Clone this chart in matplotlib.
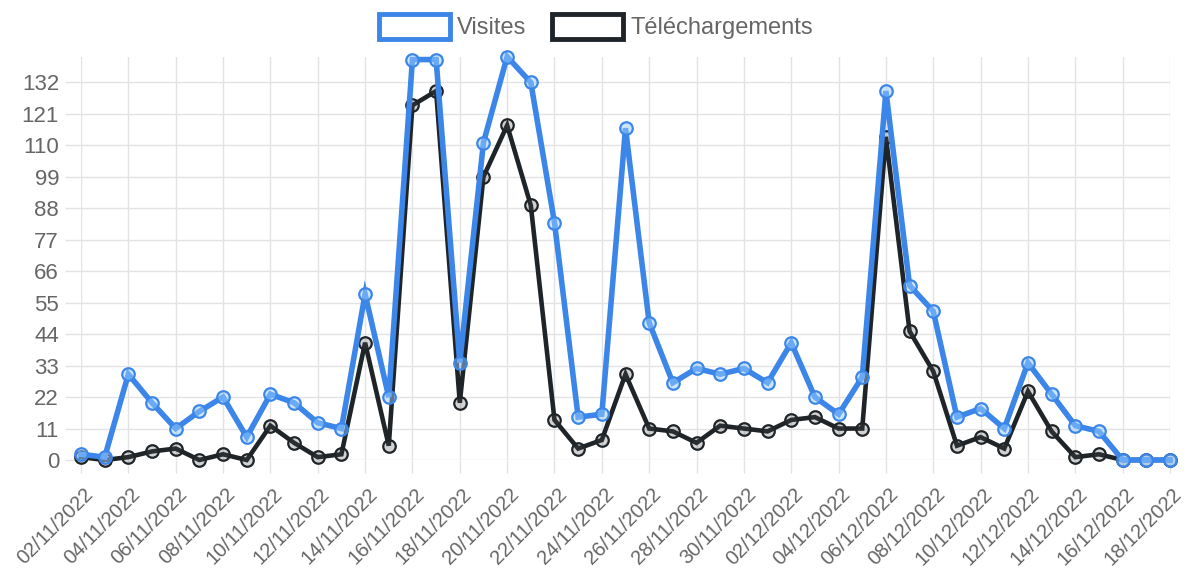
import numpy as np
import pandas as pd
import matplotlib
matplotlib.use("Agg")
import matplotlib.pyplot as plt
import matplotlib.transforms as mtransforms
from matplotlib.patches import Patch

plt.rcParams["font.family"] = ["Liberation Sans", "DejaVu Sans"]

# ─── Data ─────────────────────────────────────────────────────────────
DATES = pd.date_range("2022-11-02", "2022-12-18", freq="D").strftime("%d/%m/%Y").tolist()

VISITES = [2, 1, 30, 20, 11, 17, 22, 8, 23, 20, 13, 11, 58, 22, 140, 140,
           34, 111, 141, 132, 83, 15, 16, 116, 48, 27, 32, 30, 32, 27, 41,
           22, 16, 29, 129, 61, 52, 15, 18, 11, 34, 23, 12, 10, 0, 0, 0]

TELECHARGEMENTS = [1, 0, 1, 3, 4, 0, 2, 0, 12, 6, 1, 2, 41, 5, 124, 129,
                   20, 99, 117, 89, 14, 4, 7, 30, 11, 10, 6, 12, 11, 10, 14,
                   15, 11, 11, 113, 45, 31, 5, 8, 4, 24, 10, 1, 2, 0, 0, 0]

Y_TICKS = [0, 11, 22, 33, 44, 55, 66, 77, 88, 99, 110, 121, 132]

BLUE  = "#3b86e8"
BLACK = "#1f2428"
GRID  = "#e3e3e3"
TEXT  = "#666666"

# ─── Figure ───────────────────────────────────────────────────────────
fig = plt.figure(figsize=(11.87, 5.84), dpi=100)
ax = fig.add_axes([81 / 1187, 1 - 460 / 584, (1170 - 81) / 1187, (460 - 56.7) / 584])

x = np.arange(len(DATES))

ax.plot(x, TELECHARGEMENTS, color=BLACK, linewidth=3.3, marker="o",
        markersize=9, markeredgewidth=1.6, markeredgecolor=BLACK,
        markerfacecolor=(0.3, 0.3, 0.3, 0.25), solid_joinstyle="miter",
        clip_on=False, zorder=3)
ax.plot(x, VISITES, color=BLUE, linewidth=4.0, marker="o",
        markersize=9, markeredgewidth=1.6, markeredgecolor=BLUE,
        markerfacecolor=(0.6, 0.8, 1.0, 0.5), solid_joinstyle="miter",
        clip_on=False, zorder=4)

ax.set_xlim(0, len(DATES) - 1)
ax.set_ylim(0, 141)

ax.set_yticks(Y_TICKS)
ax.set_xticks(x[::2])
ax.set_xticklabels(DATES[::2], rotation=45, ha="right", va="center",
                   rotation_mode="anchor")

ax.tick_params(axis="y", length=11.5, width=1, color=GRID, pad=4.3,
               labelsize=16, labelcolor=TEXT)
ax.tick_params(axis="x", length=9.3, width=1, color=GRID, pad=13.0,
               labelsize=14.5, labelcolor=TEXT)

shift = mtransforms.ScaledTranslation(9 / 100, 0, fig.dpi_scale_trans)
for lbl in ax.get_xticklabels():
    lbl.set_transform(lbl.get_transform() + shift)

ax.grid(True, color=GRID, linewidth=1)
ax.set_axisbelow(True)
for s in ax.spines.values():
    s.set_visible(False)

handles = [
    Patch(facecolor="white", edgecolor=BLUE, linewidth=3.5, label="Visites"),
    Patch(facecolor="white", edgecolor=BLACK, linewidth=3.5, label="Téléchargements"),
]
fig.legend(handles=handles, loc="center", bbox_to_anchor=(0.502, 0.955),
           bbox_transform=fig.transFigure, ncol=2, frameon=False,
           fontsize=17, labelcolor=TEXT, handlelength=3.0, handleheight=1.25,
           handletextpad=0.3, columnspacing=1.1)

fig.savefig("out.png", dpi=100)
